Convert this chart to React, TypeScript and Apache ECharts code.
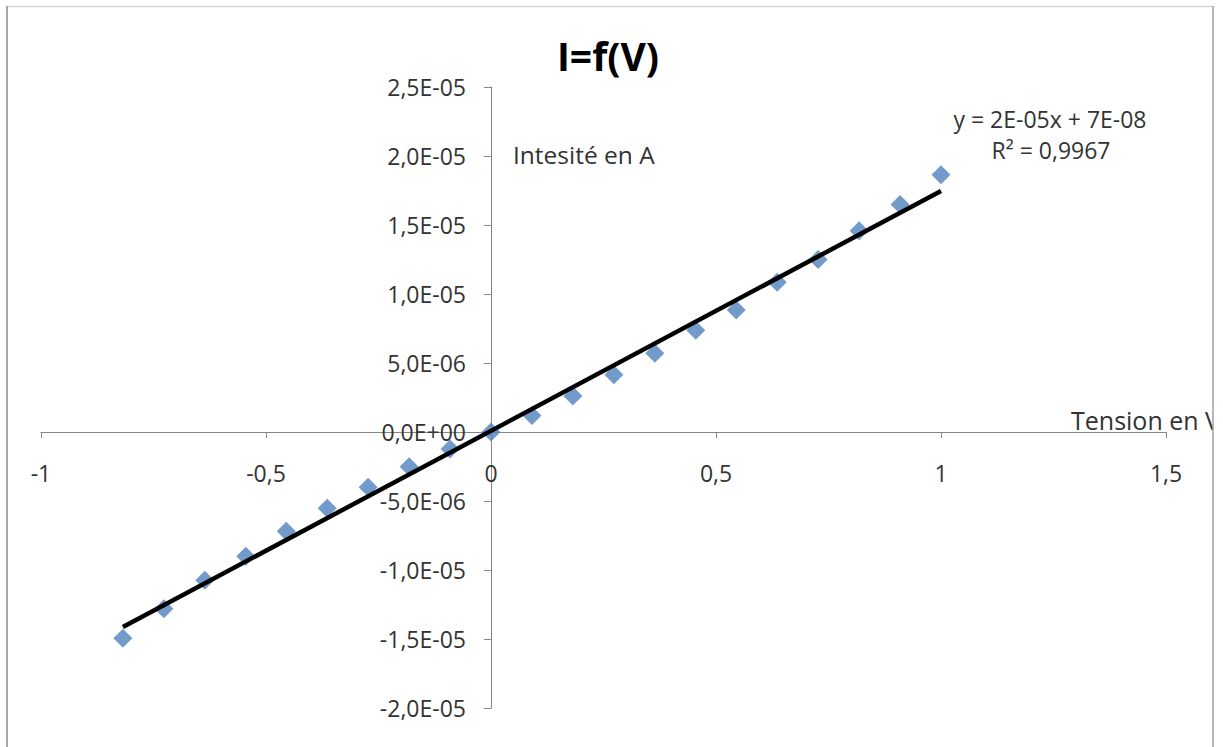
import React, { useEffect, useRef } from "react";
import * as echarts from "echarts";

// Measured points (tension in V, intensité in A)
const voltages = [
  -0.818, -0.727, -0.636, -0.545, -0.455, -0.364, -0.273, -0.182, -0.091, 0,
  0.091, 0.182, 0.273, 0.364, 0.455, 0.545, 0.636, 0.727, 0.818, 0.909, 1.0,
];
const currents = [
  -1.494e-5, -1.28e-5, -1.075e-5, -9.0e-6, -7.2e-6, -5.52e-6, -4.0e-6, -2.52e-6,
  -1.24e-6, 0, 1.2e-6, 2.61e-6, 4.15e-6, 5.71e-6, 7.38e-6, 8.84e-6, 1.086e-5,
  1.25e-5, 1.458e-5, 1.648e-5, 1.865e-5,
];

// Axis ranges
const X_MIN = -1;
const X_MAX = 1.5;
const X_STEP = 0.5;
const Y_MIN = -2e-5;
const Y_MAX = 2.5e-5;
const Y_STEP = 5e-6;

// Texts
const titleText = "I=f(V)";
const xAxisName = "Tension en V";
const yAxisName = "Intesité en A";
const equationLines = ["y = 2E-05x + 7E-08", "R² = 0,9967"];

const FONT = "'Open Sans', 'Noto Sans', sans-serif";

function linearFit(xs: number[], ys: number[]) {
  const n = xs.length;
  let sx = 0, sy = 0, sxx = 0, sxy = 0;
  for (let i = 0; i < n; i++) {
    sx += xs[i];
    sy += ys[i];
    sxx += xs[i] * xs[i];
    sxy += xs[i] * ys[i];
  }
  const slope = (n * sxy - sx * sy) / (n * sxx - sx * sx);
  const intercept = (sy - slope * sx) / n;
  return { slope, intercept };
}

function fmtSci(v: number): string {
  if (Math.abs(v) < 1e-15) v = 0;
  const [m, e] = v.toExponential(1).split("e");
  const en = parseInt(e, 10);
  const sign = en < 0 ? "-" : "+";
  return m.replace(".", ",") + "E" + sign + String(Math.abs(en)).padStart(2, "0");
}

function fmtDec(v: number): string {
  return String(Math.round(v * 1000) / 1000).replace(".", ",");
}

export default function App() {
  const ref = useRef<HTMLDivElement>(null);

  useEffect(() => {
    if (!ref.current) return;
    const chart = echarts.init(ref.current, undefined, { renderer: "svg" });

    const { slope, intercept } = linearFit(voltages, currents);
    const x0 = voltages[0];
    const x1 = voltages[voltages.length - 1];
    const trend = [
      [x0, slope * x0 + intercept],
      [x1, slope * x1 + intercept],
    ];

    const gridLeft = 41;
    const gridRight = 57;
    const gridTop = 87;
    const gridBottom = 39;
    const W = 1223;
    const H = 747;
    const gw = W - gridLeft - gridRight;
    const gh = H - gridTop - gridBottom;
    // move the axes onto the zero lines
    const xAxisOffset = -(gh * (0 - Y_MIN)) / (Y_MAX - Y_MIN);
    const yAxisOffset = -(gw * (0 - X_MIN)) / (X_MAX - X_MIN);

    const axisColor = "#868686";
    const textColor = "#333333";

    chart.setOption({
      animation: false,
      backgroundColor: "#ffffff",
      grid: {
        left: gridLeft,
        right: gridRight,
        top: gridTop,
        bottom: gridBottom,
        containLabel: false,
        outerBoundsMode: "none",
      },
      xAxis: {
        type: "value",
        position: "bottom",
        offset: xAxisOffset,
        min: X_MIN,
        max: X_MAX,
        interval: X_STEP,
        axisLine: { onZero: false, lineStyle: { color: axisColor, width: 1 } },
        axisTick: { show: true, inside: false, length: 6, lineStyle: { color: axisColor } },
        axisLabel: {
          margin: 29,
          color: textColor,
          fontSize: 23,
          fontFamily: FONT,
          formatter: (v: number) => fmtDec(v),
        },
        splitLine: { show: false },
      },
      yAxis: {
        type: "value",
        position: "left",
        offset: yAxisOffset,
        min: Y_MIN,
        max: Y_MAX,
        interval: Y_STEP,
        axisLine: { onZero: false, lineStyle: { color: axisColor, width: 1 } },
        axisTick: { show: true, inside: false, length: 7, lineStyle: { color: axisColor } },
        axisLabel: {
          margin: 25,
          color: textColor,
          fontSize: 23,
          fontFamily: FONT,
          formatter: (v: number) => fmtSci(v),
        },
        splitLine: { show: false },
      },
      series: [
        {
          type: "scatter",
          name: "I",
          data: voltages.map((v, i) => [v, currents[i]]),
          symbol: "diamond",
          symbolSize: 19,
          itemStyle: { color: "#4F81BD" },
          z: 2,
        },
        {
          type: "line",
          name: "trend",
          data: trend,
          showSymbol: false,
          symbol: "none",
          lineStyle: { color: "#000000", width: 4.5, cap: "butt" },
          z: 3,
        },
      ],
      graphic: [
        {
          type: "text",
          x: 608,
          y: 55,
          style: {
            text: titleText,
            fontSize: 39,
            fontWeight: "bold",
            fontFamily: FONT,
            fill: "#000000",
            align: "center",
            verticalAlign: "middle",
          },
        },
        {
          type: "text",
          x: 513,
          y: 154,
          style: {
            text: yAxisName,
            fontSize: 24.5,
            fontFamily: FONT,
            fill: textColor,
            align: "left",
            verticalAlign: "middle",
          },
        },
        {
          type: "text",
          x: 1071,
          y: 420,
          style: {
            text: xAxisName,
            fontSize: 25,
            fontFamily: FONT,
            fill: textColor,
            align: "left",
            verticalAlign: "middle",
          },
        },
        {
          type: "text",
          x: 1050,
          y: 119,
          style: {
            text: equationLines[0],
            fontSize: 23,
            fontFamily: FONT,
            fill: textColor,
            align: "center",
            verticalAlign: "middle",
          },
        },
        {
          type: "text",
          x: 1051,
          y: 150,
          style: {
            text: equationLines[1],
            fontSize: 23,
            fontFamily: FONT,
            fill: textColor,
            align: "center",
            verticalAlign: "middle",
          },
        },
        {
          type: "rect",
          shape: { x: 1213, y: 0, width: 10, height: 747 },
          style: { fill: "#ffffff" },
          z: 100,
        },
        {
          type: "line",
          shape: { x1: 6, y1: 6.5, x2: 1213, y2: 6.5 },
          style: { stroke: "#d6d6d6", lineWidth: 1.5 },
          z: 101,
        },
        {
          type: "line",
          shape: { x1: 7, y1: 6, x2: 7, y2: 747 },
          style: { stroke: "#a8a8a8", lineWidth: 2 },
          z: 101,
        },
        {
          type: "line",
          shape: { x1: 1213, y1: 6, x2: 1213, y2: 747 },
          style: { stroke: "#a0a0a0", lineWidth: 1.5 },
          z: 101,
        },
      ],
    });

    return () => chart.dispose();
  }, []);

  return (
    <div
      ref={ref}
      style={{ position: "fixed", left: 0, top: 0, width: 1223, height: 747, background: "#fff" }}
    />
  );
}
